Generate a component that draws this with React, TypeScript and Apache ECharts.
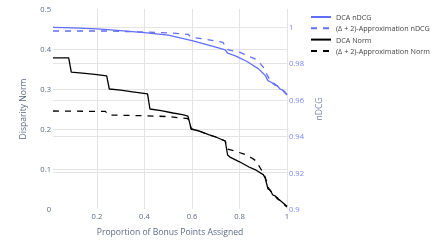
import React, { useEffect, useRef } from "react";
import * as echarts from "echarts";

// DCA nDCG (right axis)
const dcaNdcgX = [0.015, 0.1, 0.2, 0.3, 0.41, 0.5, 0.6, 0.65, 0.7, 0.74, 0.75, 0.78, 0.8, 0.83, 0.85, 0.88, 0.9, 0.91, 0.92, 0.935, 0.95, 0.96, 0.97, 0.98, 0.99, 1];
const dcaNdcgY = [0.9998, 0.9995, 0.999, 0.998, 0.9968, 0.9955, 0.9925, 0.9908, 0.989, 0.9875, 0.9856, 0.9843, 0.983, 0.9812, 0.9795, 0.977, 0.9745, 0.973, 0.9705, 0.9695, 0.968, 0.9676, 0.966, 0.9655, 0.964, 0.9626];

// (Δ + 2)-Approximation nDCG (right axis)
const apxNdcgX = [0.015, 0.24, 0.41, 0.5, 0.583, 0.597, 0.65, 0.73, 0.75, 0.8, 0.87, 0.89, 0.9, 0.915, 0.93, 0.95, 0.97, 0.99, 1];
const apxNdcgY = [0.9978, 0.9978, 0.9972, 0.9968, 0.996, 0.9943, 0.9935, 0.9916, 0.9876, 0.9862, 0.9822, 0.9795, 0.978, 0.974, 0.9705, 0.9685, 0.9665, 0.9645, 0.963];

// DCA Norm (left axis)
const dcaNormX = [0.015, 0.081, 0.092, 0.15, 0.2, 0.241, 0.252, 0.3, 0.35, 0.413, 0.423, 0.47, 0.52, 0.56, 0.583, 0.597, 0.63, 0.67, 0.7, 0.74, 0.75, 0.762, 0.8, 0.84, 0.87, 0.9, 0.908, 0.92, 0.93, 0.94, 0.95, 0.96, 0.97, 0.98, 0.99, 1];
const dcaNormY = [0.378, 0.378, 0.342, 0.339, 0.336, 0.333, 0.3, 0.297, 0.293, 0.288, 0.25, 0.246, 0.24, 0.236, 0.232, 0.2, 0.195, 0.186, 0.18, 0.17, 0.135, 0.129, 0.118, 0.105, 0.097, 0.086, 0.078, 0.05, 0.047, 0.035, 0.033, 0.025, 0.022, 0.017, 0.012, 0.007];

// (Δ + 2)-Approximation Norm (left axis)
const apxNormX = [0.015, 0.235, 0.25, 0.413, 0.5, 0.583, 0.597, 0.63, 0.67, 0.7, 0.74, 0.75, 0.78, 0.82, 0.85, 0.87, 0.89, 0.908, 0.92, 0.93, 0.94, 0.95, 0.96, 0.97, 0.98, 0.99, 1];
const apxNormY = [0.245, 0.244, 0.235, 0.233, 0.231, 0.226, 0.2, 0.195, 0.186, 0.18, 0.17, 0.15, 0.145, 0.137, 0.128, 0.12, 0.1, 0.08, 0.055, 0.045, 0.04, 0.032, 0.028, 0.02, 0.016, 0.01, 0.005];

const xTicks = [0.2, 0.4, 0.6, 0.8, 1];
const seriesNames = ["DCA nDCG", "(Δ + 2)-Approximation nDCG", "DCA Norm", "(Δ + 2)-Approximation Norm"];

const zip = (xs: number[], ys: number[]) => xs.map((x, i) => [x, ys[i]]);

const FONT = "Open Sans";
const GRID = "#e4e4e4";
const TICK = "#5a6a84";
const TITLE = "#5d6b86";
const BLUE = "#636efa";

export default function App() {
  const ref = useRef<HTMLDivElement>(null);
  useEffect(() => {
    if (!ref.current) return;
    const chart = echarts.init(ref.current, null, { renderer: "svg" });
    const line = (name: string, data: number[][], color: string, dashed: boolean, yAxisIndex: number) => ({
      name,
      type: "line",
      data,
      yAxisIndex,
      symbol: "none",
      showSymbol: false,
      lineStyle: { color, width: 1.3, type: dashed ? [6, 6] : "solid" },
      itemStyle: { color },
    });
    chart.setOption({
      animation: false,
      textStyle: { fontFamily: FONT },
      grid: { left: 53, top: 9, width: 234, height: 200, containLabel: false },
      legend: {
        orient: "vertical",
        left: 310,
        top: 13.5,
        padding: 0,
        itemWidth: 20,
        itemHeight: 8,
        itemGap: 4.3,
        itemStyle: { opacity: 0 },
        textStyle: { fontSize: 7.2, color: "#444", fontFamily: FONT },
        data: seriesNames,
      },
      xAxis: {
        type: "value",
        min: 0.015,
        max: 1,
        name: "Proportion of Bonus Points Assigned",
        nameLocation: "middle",
        nameGap: 18,
        nameTextStyle: { fontSize: 8.6, color: TITLE, fontFamily: FONT },
        axisLine: { show: false },
        axisTick: { show: false, customValues: xTicks },
        axisLabel: { customValues: xTicks, fontSize: 7.6, color: TICK, margin: 3, fontFamily: FONT },
        splitLine: { show: true, lineStyle: { color: GRID, width: 1 } },
      },
      yAxis: [
        {
          type: "value",
          min: 0,
          max: 0.5,
          interval: 0.1,
          name: "Disparity Norm",
          nameLocation: "middle",
          nameGap: 26,
          nameTextStyle: { fontSize: 8.6, color: TITLE, fontFamily: FONT },
          axisLine: { show: false },
          axisTick: { show: false },
          axisLabel: { fontSize: 7.6, color: TICK, margin: 2, fontFamily: FONT },
          splitLine: { show: true, showMinLine: false, showMaxLine: false, lineStyle: { color: GRID, width: 1 } },
        },
        {
          type: "value",
          position: "right",
          min: 0.9,
          max: 1.0099,
          interval: 0.02,
          name: "nDCG",
          nameLocation: "middle",
          nameGap: 20,
          nameTextStyle: { fontSize: 8.6, color: "#7a86a8", fontFamily: FONT },
          axisLine: { show: false },
          axisTick: { show: false },
          axisLabel: { fontSize: 7.6, color: "#7c85fb", margin: 2, showMaxLabel: false, fontFamily: FONT },
          splitLine: { show: true, showMinLine: false, showMaxLine: false, lineStyle: { color: GRID, width: 1 } },
        },
      ],
      series: [
        line(seriesNames[0], zip(dcaNdcgX, dcaNdcgY), BLUE, false, 1),
        line(seriesNames[1], zip(apxNdcgX, apxNdcgY), BLUE, true, 1),
        line(seriesNames[2], zip(dcaNormX, dcaNormY), "#000000", false, 0),
        line(seriesNames[3], zip(apxNormX, apxNormY), "#000000", true, 0),
      ],
    });
    return () => chart.dispose();
  }, []);
  return <div ref={ref} style={{ position: "fixed", left: 0, top: 0, width: 442, height: 247 }} />;
}
